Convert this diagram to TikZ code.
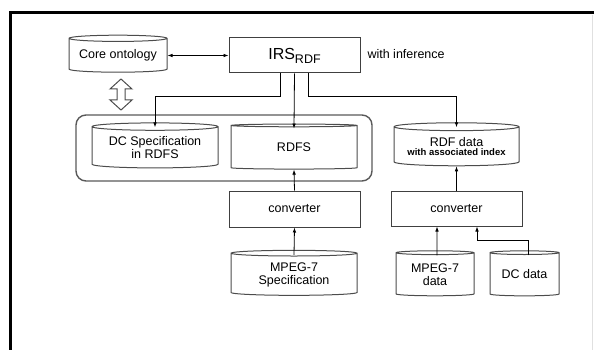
\documentclass[tikz,border=0pt]{standalone}
\usepackage{fontspec}
\setmainfont{Liberation Sans}
\usetikzlibrary{shapes.geometric,arrows.meta}
\begin{document}
\begin{tikzpicture}[x=1pt, y=-1pt, >={Latex[length=5pt,width=3.6pt]},
  every node/.style={font=\fontsize{12.5}{13}\selectfont},
  db/.style={cylinder, shape border rotate=90, draw=black!70, line width=1pt, aspect=0.08, inner sep=0pt},
  box/.style={draw=black!75, line width=1pt, minimum width=131, minimum height=36, inner sep=0pt},
  link/.style={->, line width=0.8pt}]
  \useasboundingbox (0,0) rectangle (594,350);
  % frame
  \draw[line width=3] (9,13) -- (594,13);
  \draw[line width=3] (10,12) -- (10,350);
  \draw[black!12] (592,15) -- (592,350);

  % group of RDFS stores
  \draw[black!65, line width=1.4, rounded corners=10] (76,115) rectangle (372,181);

  % top row
  \node[db, minimum width=98, minimum height=37] (core) at (118,55.5) {Core ontology};
  \node[box, minimum height=35] (irs) at (294.5,55.5) {{\fontsize{16}{18}\selectfont IRS}\raisebox{-4pt}{RDF}};
  \node[anchor=west] (inf) at (364,54) {with inference};

  % stores
  \node[db, minimum width=126, minimum height=45, align=center] (dc) at (155,147.5) {DC Specification\\in RDFS};
  \node[db, minimum width=126, minimum height=45] (rdfs) at (294,147.5) {RDFS};
  \node[db, minimum width=125, minimum height=43, align=center] (rdfd) at (456.5,146.5) {RDF data\\[-4pt]{\fontsize{9.5}{10}\selectfont\bfseries with associated index}};

  % converters
  \node[box] (conv1) at (294.5,209) {converter};
  \node[box, minimum height=35] (conv2) at (456.5,208.5) {converter};

  % sources
  \node[db, minimum width=126, minimum height=45, align=center] (mspec) at (294,274.5) {MPEG-7\\Specification};
  \node[db, minimum width=78, minimum height=45, align=center] (mdata) at (435,274.5) {MPEG-7\\data};
  \node[db, minimum width=69, minimum height=45] (dcd) at (524.5,274.5) {DC data};

  % hollow double arrow core <-> group
  \draw[black!70, line width=1pt] (121,79) -- (132,89) -- (125,89) -- (125,100) -- (132,100) -- (121,110)
    -- (110,100) -- (117,100) -- (117,89) -- (110,89) -- cycle;

  % links
  \draw[<->, line width=0.8pt] (core.east) -- (irs.west);
  \draw[link] ([xshift=-14.5pt]irs.south) -- ++(0,23) -| ([yshift=-5pt]dc.north);
  \draw[link] (irs.south) -- ([yshift=-5pt]rdfs.north);
  \draw[link] ([xshift=13.5pt]irs.south) -- ++(0,23) -| ([yshift=-5pt]rdfd.north);
  \draw[link] (conv1.north) -- (rdfs.south);
  \draw[link] (conv2.north) -- (rdfd.south);
  \draw[link] ([yshift=-5pt]mspec.north) -- (conv1.south);
  \draw[link] ([xshift=2pt,yshift=-5pt]mdata.north) -- ([xshift=-19.5pt]conv2.south);
  \draw[link] ([xshift=3.5pt,yshift=-5pt]dcd.north) -- ++(0,-15) -| ([xshift=20.5pt]conv2.south);
\end{tikzpicture}
\end{document}
